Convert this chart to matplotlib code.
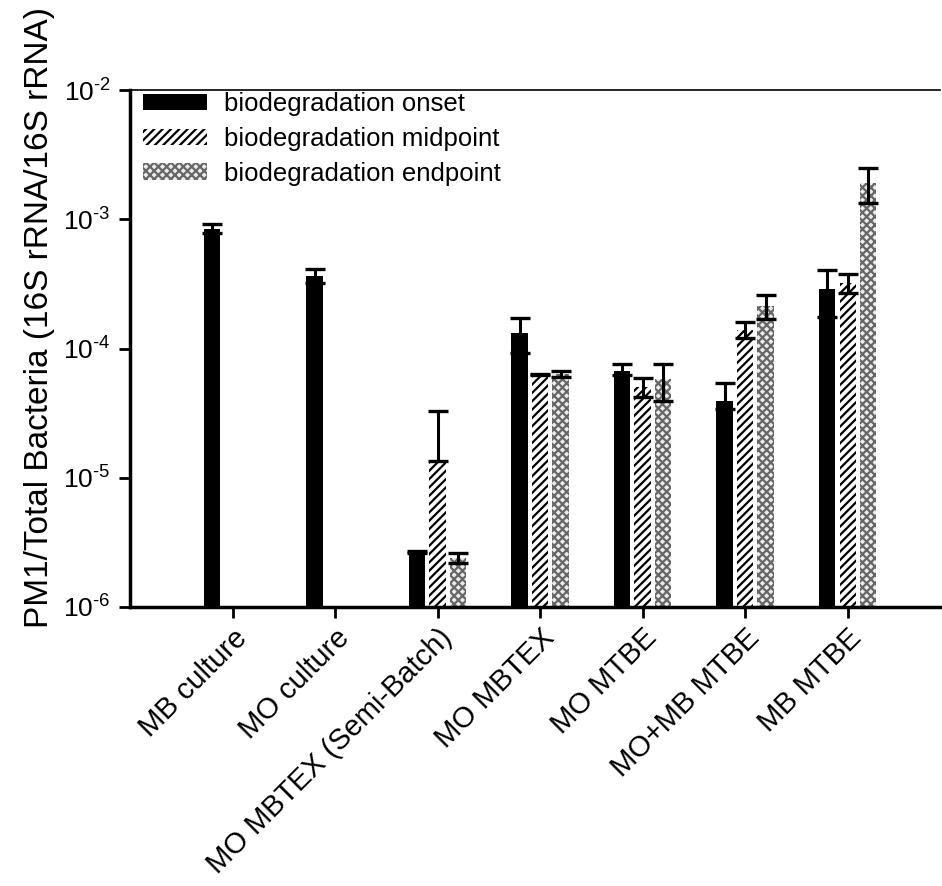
import numpy as np
import matplotlib
matplotlib.use("Agg")
import matplotlib.pyplot as plt

plt.rcParams['font.family'] = ['Liberation Sans', 'DejaVu Sans']
plt.rcParams['mathtext.fontset'] = 'custom'
plt.rcParams['mathtext.rm'] = 'Liberation Sans'
plt.rcParams['mathtext.it'] = 'Liberation Sans:italic'
plt.rcParams['mathtext.bf'] = 'Liberation Sans:bold'
plt.rcParams['hatch.linewidth'] = 1.6

# === 資料 ===
categories = ["MB culture", "MO culture", "MO MBTEX (Semi-Batch)", "MO MBTEX",
              "MO MTBE", "MO+MB MTBE", "MB MTBE"]

onset = [8.4e-4, 3.65e-4, 2.67e-6, 1.32e-4, 6.7e-5, 3.9e-5, 2.9e-4]
onset_err_lo = [0.6e-4, 0.45e-4, 0.05e-6, 0.4e-4, 0.5e-5, 0.5e-5, 1.15e-4]
onset_err_hi = [0.8e-4, 0.45e-4, 0.05e-6, 0.4e-4, 0.85e-5, 1.55e-5, 1.15e-4]

midpoint = [np.nan, np.nan, 1.35e-5, 6.3e-5, 5.07e-5, 1.40e-4, 3.22e-4]
mid_err_lo = [0, 0, 0, 0.1e-5, 0.87e-5, 0.19e-4, 0.52e-4]
mid_err_hi = [0, 0, 1.93e-5, 0.1e-5, 0.87e-5, 0.19e-4, 0.52e-4]

endpoint = [np.nan, np.nan, 2.4e-6, 6.35e-5, 5.8e-5, 2.14e-4, 1.92e-3]
end_err_lo = [0, 0, 0.2e-6, 0.35e-5, 1.85e-5, 0.46e-4, 0.59e-3]
end_err_hi = [0, 0, 0.2e-6, 0.35e-5, 1.85e-5, 0.46e-4, 0.59e-3]

ytick_vals = [1e-6, 1e-5, 1e-4, 1e-3, 1e-2]
ytick_labels = [r"$10^{\text{-6}}$", r"$10^{\text{-5}}$", r"$10^{\text{-4}}$",
                r"$10^{\text{-3}}$", r"$10^{\text{-2}}$"]

x = np.arange(len(categories))
w = 0.16
off = 0.2

fig = plt.figure(figsize=(9.42, 8.86), dpi=100)
ax = fig.add_axes([130/942, 1-607/886, 810/942, (607-90)/886])

err_kw = dict(ecolor="black", elinewidth=2.2, capsize=7, capthick=2.4)

ax.bar(x - off, onset, w, color="black", linewidth=0,
       yerr=[onset_err_lo, onset_err_hi], error_kw=err_kw,
       label="biodegradation onset", zorder=2)
ax.bar(x, midpoint, w, color="white", edgecolor="black", hatch="////",
       linewidth=0, yerr=[mid_err_lo, mid_err_hi], error_kw=err_kw,
       label="biodegradation midpoint", zorder=2)
ax.bar(x + off, endpoint, w, color="#ececec", edgecolor="#666666", hatch="xxxx",
       linewidth=0, yerr=[end_err_lo, end_err_hi], error_kw=err_kw,
       label="biodegradation endpoint", zorder=2)

ax.set_yscale("log")
ax.set_ylim(1e-6, 1e-2)
ax.set_xlim(-1.0, 6.9)
ax.set_yticks(ytick_vals)
ax.set_yticklabels(ytick_labels)
ax.minorticks_off()
ax.tick_params(axis="y", which="major", length=8, width=2, labelsize=19, pad=6)
ax.tick_params(axis="x", which="major", length=8, width=2, labelsize=21, pad=4)
ax.set_xticks(x)
ax.set_xticklabels(categories, rotation=45, ha="right", rotation_mode="anchor")

ax.spines["right"].set_visible(False)
ax.spines["left"].set_linewidth(2.5)
ax.spines["bottom"].set_linewidth(2.5)
ax.spines["top"].set_linewidth(1.2)

fig.text(40/942, 1-317/886, "PM1/Total Bacteria (16S rRNA/16S rRNA)",
         rotation=90, ha="center", va="center", fontsize=24)

ax.legend(loc="upper left", bbox_to_anchor=(13/810, 1-2/517), frameon=False,
          fontsize=18.5, handlelength=2.5, handleheight=0.6, handletextpad=0.65,
          labelspacing=0.42, borderpad=0, borderaxespad=0)

plt.savefig("out.png", dpi=100)
